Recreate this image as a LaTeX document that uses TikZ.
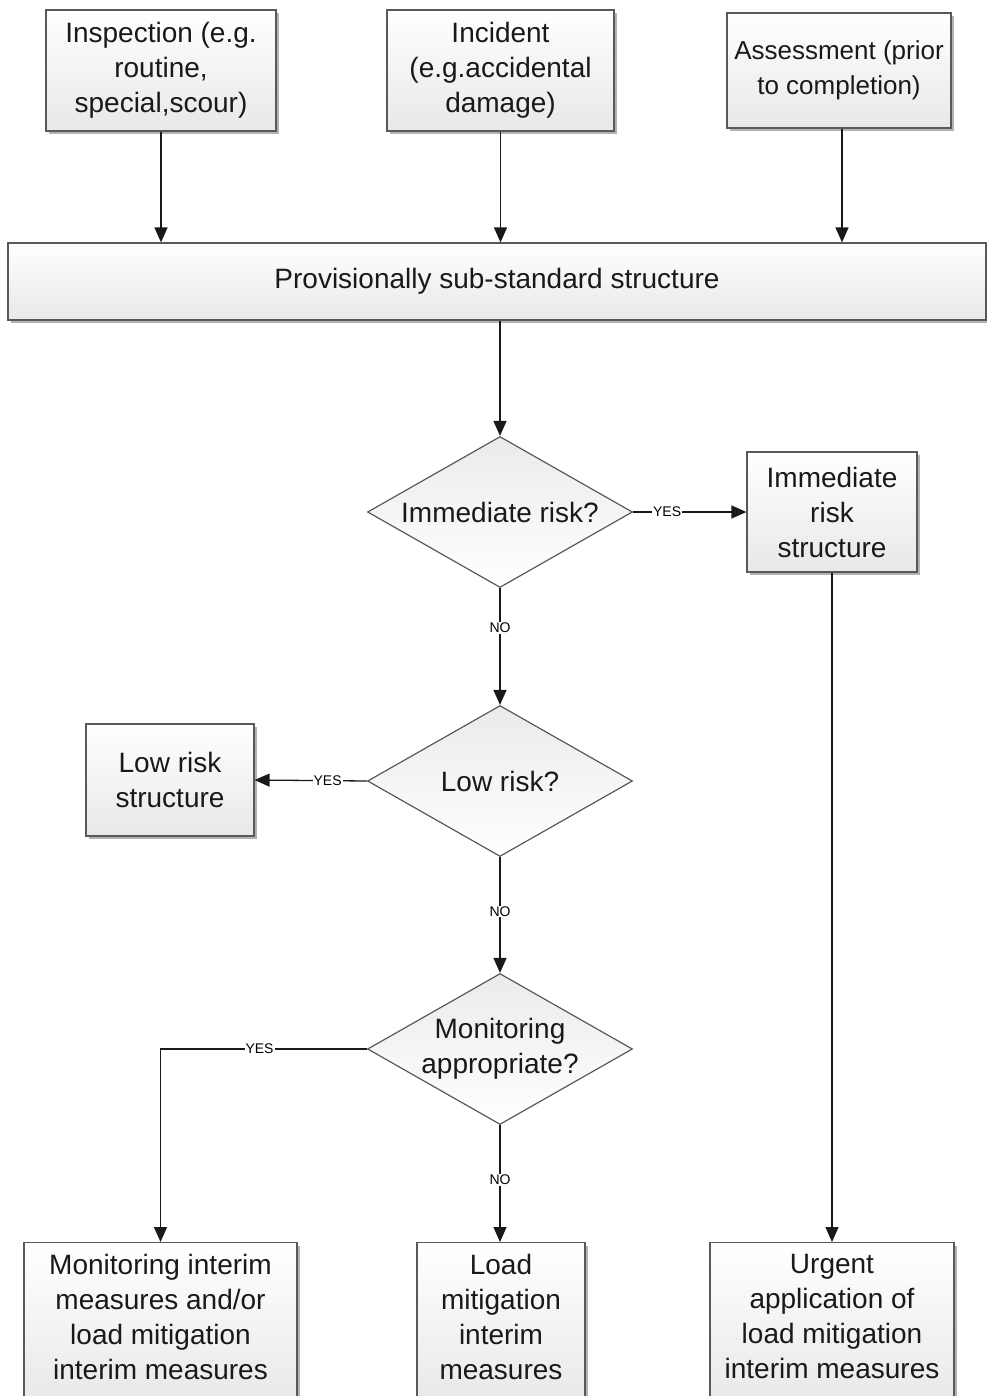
\documentclass[tikz,border=0pt]{standalone}
\usepackage{fontspec}
\setmainfont{Liberation Sans}
\usetikzlibrary{shapes.geometric, arrows.meta, shadows}

\begin{document}
\begin{tikzpicture}[x=1pt, y=-1pt]

\tikzset{block/.style = {shape=rectangle, draw=black!65, line width=1.2pt, top color=white, bottom color=black!9, drop shadow={shadow xshift=3pt, shadow yshift=-3pt, fill=black!30, opacity=1}, align=center, inner sep=0pt, text=black!90, font=\fontsize{28}{35}\selectfont}}
\tikzset{decision/.style = {shape=diamond, aspect=1.75, draw=black!65, line width=1.2pt, top color=black!8, bottom color=white, minimum width=265pt, minimum height=151pt, inner sep=-2pt, align=center, text=black!90, font=\fontsize{28}{35}\selectfont}}
\tikzset{edge/.style = {-{Triangle[length=15pt, width=13pt]}, line width=1.3pt, black!90}}
\tikzset{answer/.style = {fill=white, inner sep=1pt, text=black, font=\fontsize{14}{14}\selectfont}}

\useasboundingbox (0,0) rectangle (986,1396);

%sources
\node[block, minimum width=230pt, minimum height=121pt] (insp) at (161,70.5) {Inspection (e.g.\\routine,\\special,scour)};
\node[block, minimum width=227pt, minimum height=121pt] (inc) at (500.5,70.5) {Incident\\(e.g.accidental\\damage)};
\node[block, minimum width=224pt, minimum height=115pt, font=\fontsize{26}{35}\selectfont] (ass) at (839,70.5) {Assessment (prior\\to completion)};
\node[block, minimum width=978pt, minimum height=77pt] (prov) at (497,281.5) {Provisionally sub-standard structure};

%decisions
\node[decision] (d1) at (500,512) {Immediate risk?};
\node[decision] (d2) at (500,781) {Low risk?};
\node[decision] (d3) at (500,1049) {Monitoring\\appropriate?};

%outcomes
\node[block, minimum width=170pt, minimum height=120pt] (imm) at (832,512) {Immediate\\risk\\structure};
\node[block, minimum width=168pt, minimum height=112pt] (low) at (170,780) {Low risk\\structure};
\node[block, anchor=north, minimum width=273pt, minimum height=162pt, text depth=14pt] (monit) at (160.5,1242) {Monitoring interim\\measures and/or\\load mitigation\\interim measures};
\node[block, anchor=north, minimum width=168pt, minimum height=162pt, text depth=14pt] (load) at (501,1242) {Load\\mitigation\\interim\\measures};
\node[block, anchor=north, minimum width=244pt, minimum height=162pt, text depth=14pt] (urg) at (832,1242) {Urgent\\application of\\load mitigation\\interim measures};

\draw[edge] (insp.south) -- (insp.south |- prov.north);
\draw[edge] (inc.south) -- (inc.south |- prov.north);
\draw[edge] ([xshift=3pt]ass.south) -- ([xshift=3pt]ass.south |- prov.north);
\draw[edge] (d1.north |- prov.south) -- (d1.north);
\draw[edge] (d1.east) -- node[answer, pos=0.3] {YES} (imm.west);
\draw[edge] (d1.south) -- node[answer, pos=0.34] {NO} (d2.north);
\draw[edge] (d2.west) -- node[answer, pos=0.35] {YES} (low.east);
\draw[edge] (d2.south) -- node[answer, pos=0.47] {NO} (d3.north);
\draw[edge] (d3.west) -| node[answer, pos=0.26] {YES} (monit.north);
\draw[edge] (d3.south) -- node[answer, pos=0.47] {NO} (d3.south |- load.north);
\draw[edge] (imm.south) -- (urg.north);

\end{tikzpicture}
\end{document}
